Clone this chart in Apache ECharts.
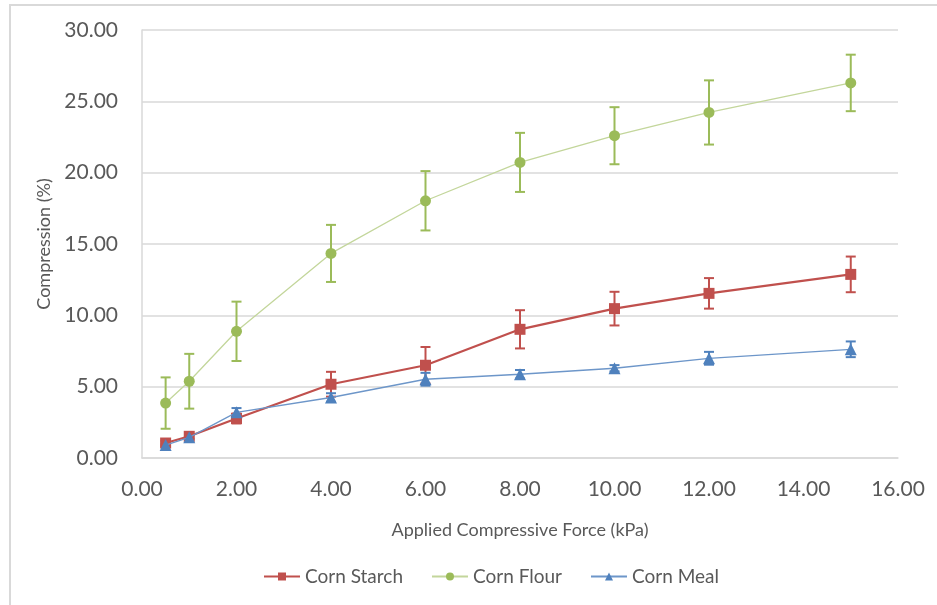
<!DOCTYPE html>
<html>
<head>
<meta charset="utf-8">
<script src="https://cdn.jsdelivr.net/npm/echarts@6/dist/echarts.min.js"></script>
<style>
  html, body { margin: 0; padding: 0; background: #fff; }
  #chart { width: 937px; height: 605px; }
</style>
</head>
<body>
<div id="chart"></div>
<script>
// Applied force levels (kPa)
const forces = [0.5, 1, 2, 4, 6, 8, 10, 12, 15];

// Mean compression (%) per material
const starchMean = [1.05, 1.52, 2.77, 5.17, 6.50, 9.02, 10.47, 11.54, 12.87];
const flourMean  = [3.85, 5.38, 8.88, 14.34, 18.03, 20.72, 22.59, 24.22, 26.29];
const mealMean   = [0.91, 1.45, 3.20, 4.24, 5.52, 5.87, 6.29, 6.99, 7.62];

// Standard deviation (%) per material
const starchSd = [0.15, 0.15, 0.35, 0.87, 1.28, 1.34, 1.18, 1.07, 1.25];
const flourSd  = [1.80, 1.92, 2.08, 2.00, 2.08, 2.07, 2.00, 2.25, 1.98];
const mealSd   = [0.10, 0.12, 0.30, 0.30, 0.45, 0.30, 0.22, 0.45, 0.55];

const xTicks = ['0.00','2.00','4.00','6.00','8.00','10.00','12.00','14.00','16.00'];
const yTicks = ['0.00','5.00','10.00','15.00','20.00','25.00','30.00'];

const FONT = 'Lato, "Open Sans", sans-serif';
const TEXT = '#595959';

function pairs(means) { return forces.map((f, i) => [f, means[i]]); }
function errRows(means, sds) { return forces.map((f, i) => [f, means[i] - sds[i], means[i] + sds[i]]); }

// Vertical ±SD whiskers with caps
function errorSeries(id, means, sds, color, width) {
  return {
    type: 'custom',
    id: id,
    name: id,
    z: 1,
    silent: true,
    data: errRows(means, sds),
    renderItem: function (params, api) {
      const x = api.value(0);
      const lo = api.coord([x, api.value(1)]);
      const hi = api.coord([x, api.value(2)]);
      const cap = 5;
      const style = { stroke: color, lineWidth: width, fill: null };
      return {
        type: 'group',
        children: [
          { type: 'line', shape: { x1: lo[0], y1: lo[1], x2: hi[0], y2: hi[1] }, style: style },
          { type: 'line', shape: { x1: hi[0] - cap, y1: hi[1], x2: hi[0] + cap, y2: hi[1] }, style: style },
          { type: 'line', shape: { x1: lo[0] - cap, y1: lo[1], x2: lo[0] + cap, y2: lo[1] }, style: style }
        ]
      };
    }
  };
}

const chart = echarts.init(document.getElementById('chart'), null, { renderer: 'canvas' });

chart.setOption({
  backgroundColor: '#ffffff',
  animation: false,
  textStyle: { fontFamily: FONT },
  graphic: [{
    type: 'rect',
    shape: { x: 10, y: 5, width: 940, height: 620 },
    style: { fill: null, stroke: '#d9d9d9', lineWidth: 2 },
    silent: true,
    z: -10
  }],
  grid: { left: 142, right: 39, top: 30, bottom: 147, containLabel: false },
  legend: {
    bottom: 14,
    left: 258,
    itemGap: 28,
    itemWidth: 36,
    itemHeight: 10,
    textStyle: { color: TEXT, fontSize: 19, fontFamily: FONT },
    data: ['Corn Starch', 'Corn Flour', 'Corn Meal']
  },
  xAxis: {
    type: 'value',
    min: 0, max: 16, interval: 2,
    name: 'Applied Compressive Force (kPa)',
    nameLocation: 'middle',
    nameGap: 63,
    nameTextStyle: { color: TEXT, fontSize: 18, fontFamily: FONT },
    axisLine: { show: true, lineStyle: { color: '#d9d9d9', width: 1.5 } },
    axisTick: { show: false },
    splitLine: { show: false },
    axisLabel: {
      color: TEXT, fontSize: 21, margin: 21, fontFamily: FONT,
      formatter: v => xTicks[Math.round(v / 2)]
    }
  },
  yAxis: {
    type: 'value',
    min: 0, max: 30, interval: 5,
    name: 'Compression (%)',
    nameLocation: 'middle',
    nameGap: 82,
    nameTextStyle: { color: TEXT, fontSize: 18, fontFamily: FONT },
    axisLine: { show: true, lineStyle: { color: '#d9d9d9', width: 1.5 } },
    axisTick: { show: false },
    splitLine: { show: true, lineStyle: { color: '#d9d9d9', width: 1.5 } },
    axisLabel: {
      color: TEXT, fontSize: 21, margin: 24, fontFamily: FONT,
      formatter: v => yTicks[Math.round(v / 5)]
    }
  },
  series: [
    errorSeries('flourSd', flourMean, flourSd, '#9bbb59', 2),
    errorSeries('starchSd', starchMean, starchSd, '#c0504d', 2),
    errorSeries('mealSd', mealMean, mealSd, '#4f81bd', 2),
    {
      name: 'Corn Starch',
      type: 'line',
      z: 4,
      data: pairs(starchMean),
      symbol: 'rect',
      symbolSize: 11,
      itemStyle: { color: '#c0504d' },
      lineStyle: { color: '#c0504d', width: 2.2 }
    },
    {
      name: 'Corn Flour',
      type: 'line',
      z: 3,
      data: pairs(flourMean),
      symbol: 'circle',
      symbolSize: 11,
      itemStyle: { color: '#9bbb59' },
      lineStyle: { color: '#c3d69b', width: 1.3 }
    },
    {
      name: 'Corn Meal',
      type: 'line',
      z: 5,
      data: pairs(mealMean),
      symbol: 'triangle',
      symbolSize: 12,
      itemStyle: { color: '#4f81bd' },
      lineStyle: { color: '#6d96c9', width: 1.3 }
    }
  ]
});
</script>
</body>
</html>
